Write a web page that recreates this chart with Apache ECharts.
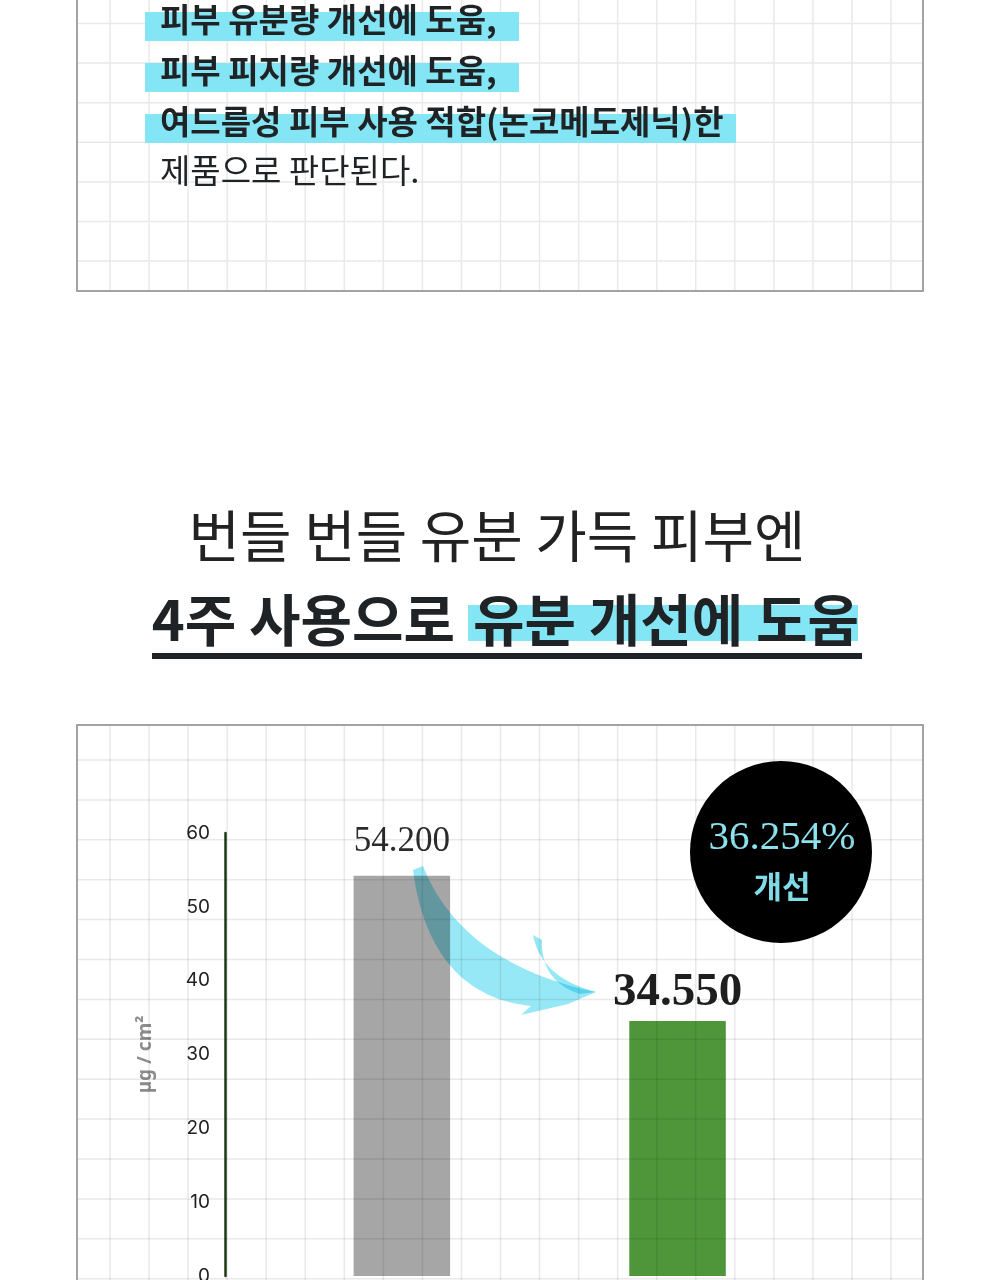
<!DOCTYPE html>
<html>
<head>
<meta charset="utf-8">
<script src="https://cdn.jsdelivr.net/npm/echarts@6/dist/echarts.min.js"></script>
<style>
html,body{margin:0;padding:0;background:#fff;}
#chart{width:1000px;height:1280px;}
</style>
</head>
<body>
<div id="chart"></div>
<script>
// ---- data ----
const categories = ['사용 전', '4주 사용 후'];
const oilValues = [54.2, 34.55];
const barColors = ['#a6a6a6', '#4e9639'];
const yMin = 0, yMax = 60, yInterval = 10;
const unitLabel = 'µg / cm²';
const improvementText = '36.254%';
const improvementWord = '개선';
const introLines = ['피부 유분량 개선에 도움,', '피부 피지량 개선에 도움,', '여드름성 피부 사용 적합(논코메도제닉)한', '제품으로 판단된다.'];
const titleLine1 = '번들 번들 유분 가득 피부엔';
const titleLine2a = '4주 사용으로';
const titleLine2b = '유분 개선에 도움';

// ---- layout / style ----
const KR = '"Noto Sans CJK KR", "Noto Sans", sans-serif';
const SERIF = '"Liberation Serif", "DejaVu Serif", serif';
const HL = '#84e6f4';
const DARK = '#1f2326';
const GRID_C = '#e9e9e9';
const ARROW_C = '#96e8f6';

// sample a cubic bezier into polygon points (decoration only)
function bez(p0, c1, c2, p1, n) {
  const pts = [];
  for (let i = 0; i <= n; i++) {
    const t = i / n, u = 1 - t;
    pts.push([
      u*u*u*p0[0] + 3*u*u*t*c1[0] + 3*u*t*t*c2[0] + t*t*t*p1[0],
      u*u*u*p0[1] + 3*u*u*t*c1[1] + 3*u*t*t*c2[1] + t*t*t*p1[1]
    ]);
  }
  return pts;
}

const chart = echarts.init(document.getElementById('chart'), null, {renderer: 'canvas'});

const g = [];
const vx = [];
for (let k = 0; k <= 20; k++) vx.push(110 + 39.05 * k);
// top box grid (behind text)
vx.forEach(x => g.push({type: 'line', z: 0, shape: {x1: x, y1: 0, x2: x, y2: 290}, style: {stroke: GRID_C, lineWidth: 1.5}}));
for (let k = 0; k <= 6; k++) {
  const y = 23.5 + 39.6 * k;
  g.push({type: 'line', z: 0, shape: {x1: 78, y1: y, x2: 922, y2: y}, style: {stroke: GRID_C, lineWidth: 1.5}});
}
g.push({type: 'rect', z: 1, shape: {x: 77, y: -10, width: 846, height: 301}, style: {fill: 'none', stroke: '#a3a3a3', lineWidth: 2}});

// intro highlight bands + text
const introY = [19, 70, 121, 170];
const bandRight = [519, 519, 736];
for (let i = 0; i < 3; i++) {
  g.push({type: 'rect', z: 2, shape: {x: 145, y: introY[i] - 7, width: bandRight[i] - 145, height: 29}, style: {fill: HL}});
}
introLines.forEach((t, i) => {
  g.push({type: 'text', z: 3, x: 160, y: introY[i], style: {text: t, font: (i < 3 ? 'bold ' : '') + '33px ' + KR, fill: DARK, textAlign: 'left', textVerticalAlign: 'middle', verticalAlign: 'middle'}});
});

// titles
g.push({type: 'text', z: 3, x: 497, y: 536, style: {text: titleLine1, font: '400 56px ' + KR, fill: '#222', textAlign: 'center', textVerticalAlign: 'middle', verticalAlign: 'middle'}});
g.push({type: 'rect', z: 2, shape: {x: 468, y: 605, width: 390, height: 36}, style: {fill: HL}});
g.push({type: 'text', z: 3, x: 455, y: 620, style: {text: titleLine2a, font: 'bold 56px ' + KR, fill: DARK, textAlign: 'right', textVerticalAlign: 'middle', verticalAlign: 'middle'}});
g.push({type: 'text', z: 3, x: 473, y: 620, style: {text: titleLine2b, font: 'bold 56px ' + KR, fill: DARK, textAlign: 'left', textVerticalAlign: 'middle', verticalAlign: 'middle'}});
g.push({type: 'rect', z: 3, shape: {x: 152, y: 653, width: 710, height: 6}, style: {fill: DARK}});

// chart box border + grid (grid on top with multiply, so it shows through bars)
g.push({type: 'rect', z: 1, shape: {x: 77, y: 725, width: 846, height: 600}, style: {fill: 'none', stroke: '#a3a3a3', lineWidth: 2}});
vx.forEach(x => g.push({type: 'line', z: 100, shape: {x1: x, y1: 726, x2: x, y2: 1280}, style: {stroke: GRID_C, lineWidth: 1.5, blend: 'multiply'}}));
for (let k = 0; k <= 13; k++) {
  const y = 760 + 39.9 * k;
  g.push({type: 'line', z: 100, shape: {x1: 78, y1: y, x2: 922, y2: y}, style: {stroke: GRID_C, lineWidth: 1.5, blend: 'multiply'}});
}

// improvement badge
g.push({type: 'circle', z: 20, shape: {cx: 781, cy: 852, r: 91}, style: {fill: '#000'}});
g.push({type: 'text', z: 21, x: 782, y: 838, style: {text: improvementText, font: '41px ' + SERIF, fill: '#8ee3ee', textAlign: 'center', textVerticalAlign: 'middle', verticalAlign: 'middle'}});
g.push({type: 'text', z: 21, x: 782, y: 886, style: {text: improvementWord, font: 'bold 31px ' + KR, fill: '#80dce9', textAlign: 'center', textVerticalAlign: 'middle', verticalAlign: 'middle'}});

// decorative curved arrow (brush stroke)
const arrowBody = [].concat(
  bez([423, 866], [446, 925], [500, 972], [596, 992], 30),
  [[568, 1004], [521, 1015], [531, 1006]],
  bez([531, 1006], [472, 1000], [425, 962], [413, 870], 30).slice(1)
);
const arrowBarb = [].concat(
  bez([533, 935], [538, 962], [558, 982], [596, 992], 16),
  bez([580, 994], [553, 986], [541, 966], [542, 940], 16)
);
g.push({type: 'polygon', z: 30, shape: {points: arrowBody}, style: {fill: ARROW_C, blend: 'multiply'}});
g.push({type: 'polygon', z: 30, shape: {points: arrowBarb}, style: {fill: ARROW_C, blend: 'multiply'}});

const labelStyles = [
  {fontFamily: SERIF, fontSize: 35, fontWeight: 'normal', color: '#2b2b2b', distance: 17},
  {fontFamily: SERIF, fontSize: 47, fontWeight: 'bold', color: '#1e1e1e', distance: 5}
];

const option = {
  animation: false,
  backgroundColor: '#fff',
  grid: {left: 264, top: 833, width: 551.4, height: 443, containLabel: false, outerBoundsMode: 'none'},
  xAxis: {type: 'category', data: categories, show: false},
  yAxis: {
    type: 'value', min: yMin, max: yMax, interval: yInterval, offset: 39,
    axisLine: {show: true, lineStyle: {color: '#1c3a12', width: 2.5}},
    axisTick: {show: false},
    splitLine: {show: false},
    axisLabel: {color: '#222', fontSize: 19, margin: 15, fontFamily: 'Inter, "Noto Sans", sans-serif'},
    name: unitLabel, nameLocation: 'middle', nameRotate: 90, nameGap: 70,
    nameTextStyle: {color: '#8c8c8c', fontSize: 19, fontWeight: 'bold', fontFamily: '"Noto Sans", sans-serif'}
  },
  series: [{
    type: 'bar', barWidth: 96.5, z: 5,
    data: oilValues.map((v, i) => ({
      value: v,
      itemStyle: {color: barColors[i]},
      label: Object.assign({show: true, position: 'top'}, labelStyles[i])
    })),
    label: {formatter: p => p.value.toFixed(3)}
  }],
  graphic: {elements: g}
};
chart.setOption(option);
</script>
</body>
</html>
